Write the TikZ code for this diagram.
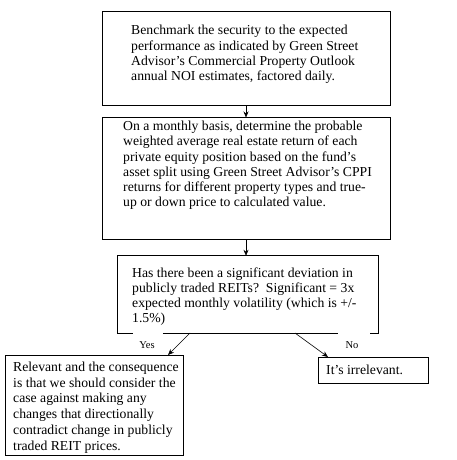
\documentclass[tikz,border=0pt]{standalone}
\usepackage{fontspec}
\setmainfont{Liberation Serif}
\usetikzlibrary{arrows.meta,fit}
\begin{document}
\begin{tikzpicture}[x=1bp,y=-1bp,
  frame/.style={draw,line width=1bp,inner sep=0pt},
  hidden/.style={inner sep=0pt},
  border/.style={line width=1bp},
  txt/.style={font=\fontsize{13.7bp}{15.2bp}\selectfont,align=left,inner sep=0pt,anchor=west},
  lbl/.style={font=\fontsize{10.5bp}{12bp}\selectfont,inner sep=0pt},
  arr/.style={-{Stealth[length=6bp,width=5bp]},line width=0.6bp}]
\useasboundingbox (0,0) rectangle (457,460);
% boxes
\node[frame,fit={(102,12) (390,106)}] (b1) {};
\node[frame,fit={(102,118) (390,239)}] (b2) {};
\node[hidden,fit={(118,256) (378,333)}] (b3) {};
\node[frame,fit={(5,355) (183,455)}] (b4) {};
\node[frame,fit={(318,357) (428,383)}] (b5) {};
% box 3 border with gaps under the labels
\draw[border] ([xshift=15bp]b3.south west) -- (b3.south west) -- (b3.north west)
  -- (b3.north east) -- (b3.south east) -- ([xshift=-8bp]b3.south east);
\draw[border] ([xshift=45bp]b3.south west) -- ([xshift=-40bp]b3.south east);
% texts
\node[txt] (t1) at (131,54.5) {Benchmark the security to the expected\\
performance as indicated by Green Street\\
Advisor’s Commercial Property Outlook\\
annual NOI estimates, factored daily.};
\node[txt] (t2) at (123,165.5) {On a monthly basis, determine the probable\\
weighted average real estate return of each\\
private equity position based on the fund’s\\
asset split using Green Street Advisor’s CPPI\\
returns for different property types and true-\\
up or down price to calculated value.};
\node[txt] (t3) at (132,296.5) {Has there been a significant deviation in\\
publicly traded REITs?\ \ Significant = 3x\\
expected monthly volatility (which is +/-\\
1.5\%)};
\node[txt,font=\fontsize{13.7bp}{15.8bp}\selectfont] (t4) at (13,407.5) {Relevant and the consequence\\
is that we should consider the\\
case against making any\\
changes that directionally\\
contradict change in publicly\\
traded REIT prices.};
\node[txt] (t5) at (326,370) {It’s irrelevant.};
% labels
\node[lbl] (yes) at (147,345) {Yes};
\node[lbl] (no) at (352,345) {No};
% connectors
\coordinate (ax) at (246,0);
\draw[arr] (b1.south -| ax) -- (b2.north -| ax);
\draw[arr] (b2.south -| ax) -- (b3.north -| ax);
\coordinate (ys) at (190,333);
\coordinate (ye) at (168,355);
\coordinate (ns) at (295,333);
\coordinate (ne) at (328,357);
\draw[arr] (ys) -- (ye);
\draw[arr] (ns) -- (ne);
\end{tikzpicture}
\end{document}
